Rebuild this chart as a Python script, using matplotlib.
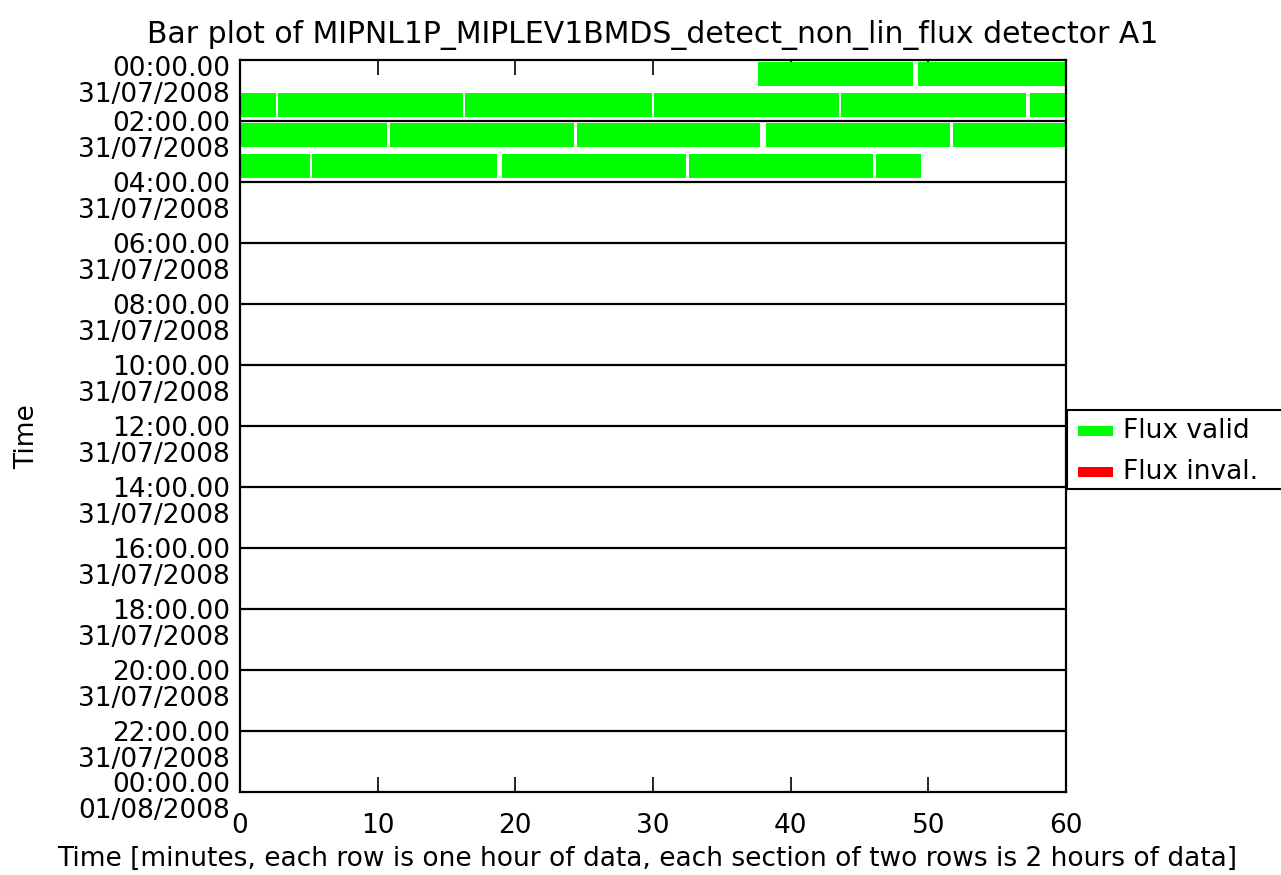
import matplotlib
matplotlib.use("Agg")
import matplotlib.pyplot as plt
from matplotlib.patches import Rectangle
from matplotlib.transforms import blended_transform_factory, offset_copy

# ---------------- data ----------------
title = "Bar plot of MIPNL1P_MIPLEV1BMDS_detect_non_lin_flux detector A1"
xlabel = "Time [minutes, each row is one hour of data, each section of two rows is 2 hours of data]"
ylabel = "Time"

# valid-flux segments per hourly row (start minute, end minute)
row0_starts = [37.65, 49.25]
row0_ends = [48.9, 60.0]
row1_starts = [0.0, 2.78, 16.36, 30.08, 43.65, 57.37]
row1_ends = [2.6, 16.17, 29.9, 43.5, 57.1, 60.0]
row2_starts = [0.0, 10.89, 24.5, 38.2, 51.8]
row2_ends = [10.7, 24.28, 37.8, 51.56, 60.0]
row3_starts = [0.0, 5.25, 19.05, 32.6, 46.19]
row3_ends = [5.08, 18.69, 32.37, 46.0, 49.46]

row_hours = [0, 1, 2, 3]

y_tick_hours = [0, 2, 4, 6, 8, 10, 12, 14, 16, 18, 20, 22, 24]
y_tick_times = ["00:00.00", "02:00.00", "04:00.00", "06:00.00", "08:00.00",
                "10:00.00", "12:00.00", "14:00.00", "16:00.00", "18:00.00",
                "20:00.00", "22:00.00", "00:00.00"]
y_tick_dates = ["31/07/2008"] * 12 + ["01/08/2008"]

x_ticks = [0, 10, 20, 30, 40, 50, 60]
x_tick_labels = ["0", "10", "20", "30", "40", "50", "60"]

legend_labels = ["Flux valid", "Flux inval."]
legend_colors = ["#00ff00", "#ff0000"]

# ---------------- figure ----------------
W, H = 1281, 875
fig = plt.figure(figsize=(W / 100, H / 100), dpi=100)
fig.patch.set_facecolor("white")

def fx(px):
    return px / W

def fy(py):
    return 1 - py / H

ax = fig.add_axes([fx(240), fy(792), fx(1066) - fx(240), fy(60) - fy(792)])
ax.set_xlim(0, 60)
ax.set_ylim(24, 0)

FS = 19

rows = [(row0_starts, row0_ends), (row1_starts, row1_ends),
        (row2_starts, row2_ends), (row3_starts, row3_ends)]
for hr, (starts, ends) in zip(row_hours, rows):
    widths = [e - s for s, e in zip(starts, ends)]
    ax.barh([hr + 0.467] * len(starts), widths, left=starts, height=0.775,
            color=legend_colors[0], edgecolor="none", zorder=2)

# section separators
for h in y_tick_hours[1:-1]:
    ax.axhline(h, color="black", lw=1.6, zorder=3)

for sp in ax.spines.values():
    sp.set_linewidth(1.6)
    sp.set_zorder(4)

ax.set_xticks(x_ticks)
ax.set_xticklabels(x_tick_labels, fontsize=FS)
ax.tick_params(axis="x", which="both", direction="in", length=10.8, width=1.2,
               top=True, bottom=True, pad=15)

ax.set_yticks(y_tick_hours)
ax.set_yticklabels([])
ax.tick_params(axis="y", length=0)

# y tick labels: time line near tick, date line below
trans = blended_transform_factory(ax.transAxes, ax.transData)
for i, (h, t, d) in enumerate(zip(y_tick_hours, y_tick_times, y_tick_dates)):
    if i == 0:
        delta = 8
    elif i == len(y_tick_hours) - 1:
        delta = -8
    else:
        delta = 2
    dy_px = -(14 + delta)
    tr = offset_copy(trans, fig=fig, x=-10, y=dy_px, units="dots")
    ax.text(0, h, t + "\n" + d, transform=tr, ha="right", va="center",
            fontsize=FS, linespacing=1.02, multialignment="right")

ax.set_title(title, fontsize=21.5, pad=12)
fig.text(fx(647), fy(859), xlabel, ha="center", va="center", fontsize=FS)
fig.text(fx(27), fy(437), ylabel, ha="center", va="center", rotation=90, fontsize=FS)

# legend (drawn in figure pixels)
fig.patches.append(Rectangle((fx(1067), fy(489)), fx(1290) - fx(1067), fy(410) - fy(489),
                             transform=fig.transFigure, facecolor="white",
                             edgecolor="black", lw=1.5, zorder=5))
for lab, col, py in zip(legend_labels, legend_colors, [431, 472]):
    fig.patches.append(Rectangle((fx(1078), fy(py + 5)), fx(1113) - fx(1078), fy(py - 5) - fy(py + 5),
                                 transform=fig.transFigure, facecolor=col,
                                 edgecolor="none", zorder=6))
    fig.text(fx(1123), fy(py), lab, ha="left", va="center", fontsize=FS, zorder=7)

fig.savefig("out.png", dpi=100)
